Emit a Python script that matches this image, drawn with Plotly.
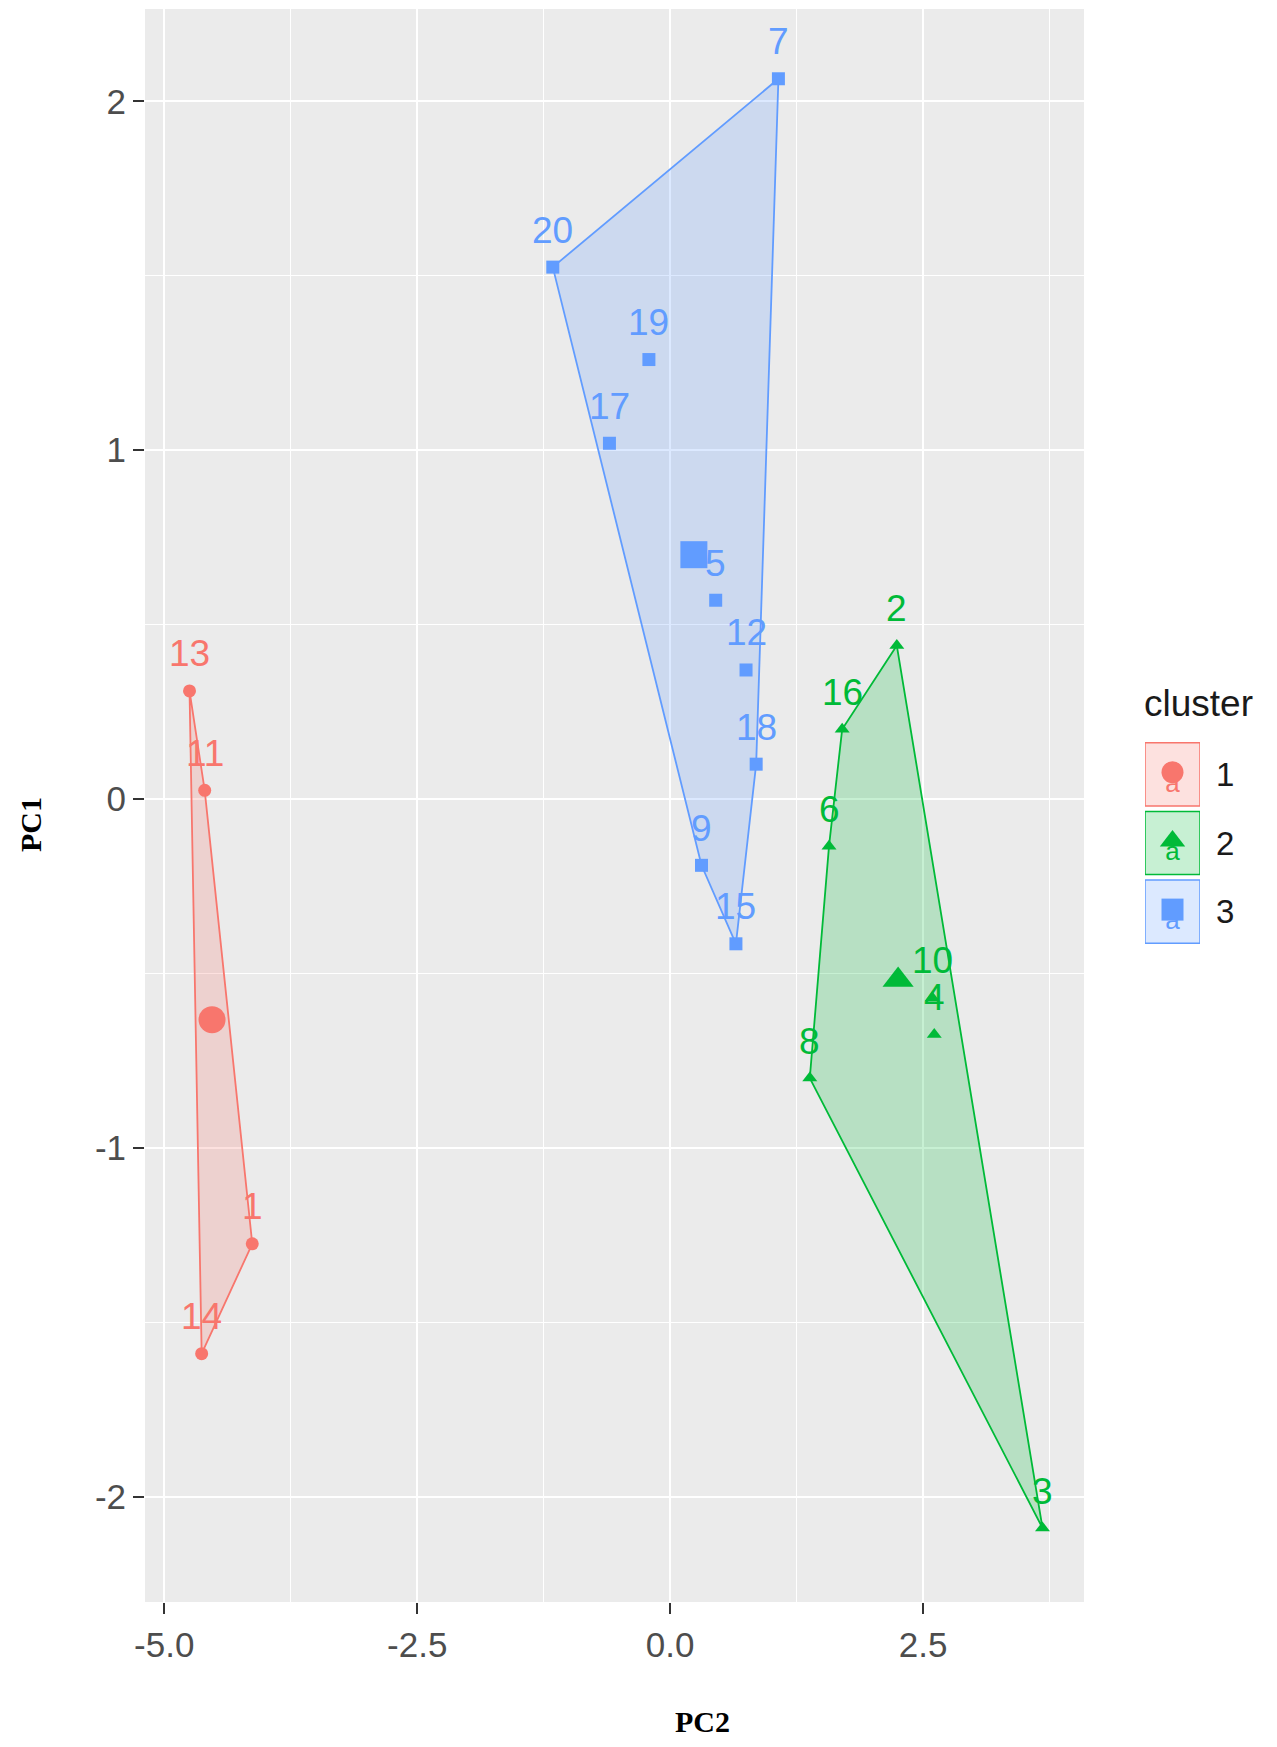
import plotly.graph_objects as go

# ---------------- data ----------------
labels_c1 = ["13", "11", "1", "14"]
pc2_c1 = [-4.75, -4.60, -4.13, -4.63]
pc1_c1 = [0.31, 0.025, -1.275, -1.59]

labels_c2 = ["2", "16", "6", "10", "4", "8", "3"]
pc2_c2 = [2.24, 1.70, 1.57, 2.59, 2.61, 1.38, 3.68]
pc1_c2 = [0.44, 0.20, -0.135, -0.57, -0.675, -0.80, -2.09]

labels_c3 = ["7", "20", "19", "17", "5", "12", "18", "9", "15"]
pc2_c3 = [1.07, -1.16, -0.21, -0.60, 0.45, 0.75, 0.85, 0.31, 0.65]
pc1_c3 = [2.065, 1.525, 1.26, 1.02, 0.57, 0.37, 0.10, -0.19, -0.415]

cluster_names = ["1", "2", "3"]
x_ticks = [-5.0, -2.5, 0.0, 2.5]
x_ticktext = ["-5.0", "-2.5", "0.0", "2.5"]
y_ticks = [-2, -1, 0, 1, 2]
y_ticktext = ["-2", "-1", "0", "1", "2"]

# ---------------- style ----------------
colors = ["#F8766D", "#00BA38", "#619CFF"]
fills = ["rgba(248,118,109,0.22)", "rgba(0,186,56,0.22)", "rgba(97,156,255,0.22)"]
symbols = ["circle", "triangle-up", "square"]
OFF = 8                      # page body margin
W, H = 1277 - 2 * OFF, 1747 - 2 * OFF
PL, PR, PT, PB = 145, 1084, 9, 1602  # panel pixel box in page coordinates


def px(x):
    return (x - OFF) / W


def py(y):
    return 1 - (y - OFF) / H


def hull(xs, ys):
    pts = sorted(set(zip(xs, ys)))
    if len(pts) < 3:
        return pts

    def cross(o, a, b):
        return (a[0] - o[0]) * (b[1] - o[1]) - (a[1] - o[1]) * (b[0] - o[0])

    lower, upper = [], []
    for p in pts:
        while len(lower) >= 2 and cross(lower[-2], lower[-1], p) <= 0:
            lower.pop()
        lower.append(p)
    for p in reversed(pts):
        while len(upper) >= 2 and cross(upper[-2], upper[-1], p) <= 0:
            upper.pop()
        upper.append(p)
    return lower[:-1] + upper[:-1]


clusters = [
    (labels_c1, pc2_c1, pc1_c1),
    (labels_c2, pc2_c2, pc1_c2),
    (labels_c3, pc2_c3, pc1_c3),
]

fig = go.Figure()
annotations = []

for k, (labs, xs, ys) in enumerate(clusters):
    h = hull(xs, ys)
    hx = [p[0] for p in h] + [h[0][0]]
    hy = [p[1] for p in h] + [h[0][1]]
    fig.add_trace(go.Scatter(
        x=hx, y=hy, mode="lines", fill="toself", fillcolor=fills[k],
        line=dict(color=colors[k], width=1.8), hoverinfo="skip", showlegend=False))

for k, (labs, xs, ys) in enumerate(clusters):
    fig.add_trace(go.Scatter(
        x=xs, y=ys, mode="markers", text=labs,
        marker=dict(symbol=symbols[k], size=13, color=colors[k], line=dict(width=0)),
        showlegend=False))
    cx = sum(xs) / len(xs)
    cy = sum(ys) / len(ys)
    fig.add_trace(go.Scatter(
        x=[cx], y=[cy], mode="markers",
        marker=dict(symbol=symbols[k], size=27, color=colors[k], line=dict(width=0)),
        showlegend=False, hoverinfo="skip"))
    for lab, x, y in zip(labs, xs, ys):
        annotations.append(dict(
            x=x, y=y, xref="x", yref="y", text=lab, showarrow=False,
            yshift=37, xanchor="center", yanchor="middle",
            font=dict(family="Liberation Sans, Arial", size=37, color=colors[k])))

# ---------------- custom legend ----------------
for k in range(3):
    fig.add_trace(go.Scatter(
        x=[0.5], y=[k + 0.66], xaxis="x2", yaxis="y2", mode="text", text=["a"],
        textfont=dict(family="Liberation Sans, Arial", size=26, color=colors[k]),
        showlegend=False, hoverinfo="skip"))
    fig.add_trace(go.Scatter(
        x=[0.5], y=[k + 0.47], xaxis="x2", yaxis="y2", mode="markers",
        marker=dict(symbol=symbols[k], size=22, color=colors[k]),
        showlegend=False, hoverinfo="skip"))
    annotations.append(dict(
        x=px(1225), y=k + 0.5, xref="paper", yref="y2", text=cluster_names[k],
        showarrow=False, xanchor="center", yanchor="middle",
        font=dict(family="Liberation Sans, Arial", size=33, color="#1A1A1A")))

shapes = [dict(type="rect", xref="x domain", yref="y domain", x0=0, x1=1, y0=0, y1=1,
               fillcolor="#EBEBEB", line=dict(width=0), layer="below")]
for k in range(3):
    shapes.append(dict(type="rect", xref="x2", yref="y2", x0=0, x1=1,
                       y0=k + 0.04, y1=k + 0.96,
                       fillcolor=fills[k], line=dict(color=colors[k], width=1.5),
                       layer="below"))

annotations.append(dict(
    x=px(1142), y=py(703), xref="paper", yref="paper", text="cluster",
    showarrow=False, xanchor="left", yanchor="middle",
    font=dict(family="Liberation Sans, Arial", size=37, color="#1A1A1A")))
annotations.append(dict(
    x=px(30), y=py(825), xref="paper", yref="paper", text="<b>PC1</b>",
    showarrow=False, textangle=-90, xanchor="center", yanchor="middle",
    font=dict(family="Liberation Serif, Times New Roman, serif", size=30, color="#000000")))
annotations.append(dict(
    x=px(702), y=py(1721), xref="paper", yref="paper", text="<b>PC2</b>",
    showarrow=False, xanchor="center", yanchor="middle",
    font=dict(family="Liberation Serif, Times New Roman, serif", size=30, color="#000000")))

tickfont = dict(family="Liberation Sans, Arial", size=35, color="#4D4D4D")
fig.update_layout(
    width=W, height=H,
    margin=dict(l=0, r=0, t=0, b=0),
    paper_bgcolor="white", plot_bgcolor="white",
    showlegend=False,
    xaxis=dict(
        domain=[px(PL), px(PR)], range=[-5.19, 4.09], autorange=False,
        tickvals=x_ticks, ticktext=x_ticktext, ticks="outside", ticklen=11,
        tickwidth=2, tickcolor="#333333", tickfont=tickfont,
        showgrid=True, gridcolor="white", gridwidth=2.4, zeroline=False,
        showline=False, automargin=False, ticklabelstandoff=1,
        minor=dict(tickvals=[-3.75, -1.25, 1.25, 3.75], showgrid=True,
                   gridcolor="white", gridwidth=1.2, ticks=""),
        anchor="y"),
    yaxis=dict(
        domain=[py(PB), py(PT)], range=[-2.302, 2.265], autorange=False,
        tickvals=y_ticks, ticktext=y_ticktext, ticks="outside", ticklen=11,
        tickwidth=2, tickcolor="#333333", tickfont=tickfont,
        showgrid=True, gridcolor="white", gridwidth=2.4, zeroline=False,
        showline=False, automargin=False, ticklabelstandoff=0,
        minor=dict(tickvals=[-1.5, -0.5, 0.5, 1.5], showgrid=True,
                   gridcolor="white", gridwidth=1.2, ticks=""),
        anchor="x"),
    xaxis2=dict(domain=[px(1145), px(1200)], range=[0, 1], visible=False,
                anchor="y2", fixedrange=True),
    yaxis2=dict(domain=[py(946), py(740)], range=[3, 0], visible=False,
                anchor="x2", fixedrange=True),
    shapes=shapes,
    annotations=annotations,
)

fig.write_html("out.html")
